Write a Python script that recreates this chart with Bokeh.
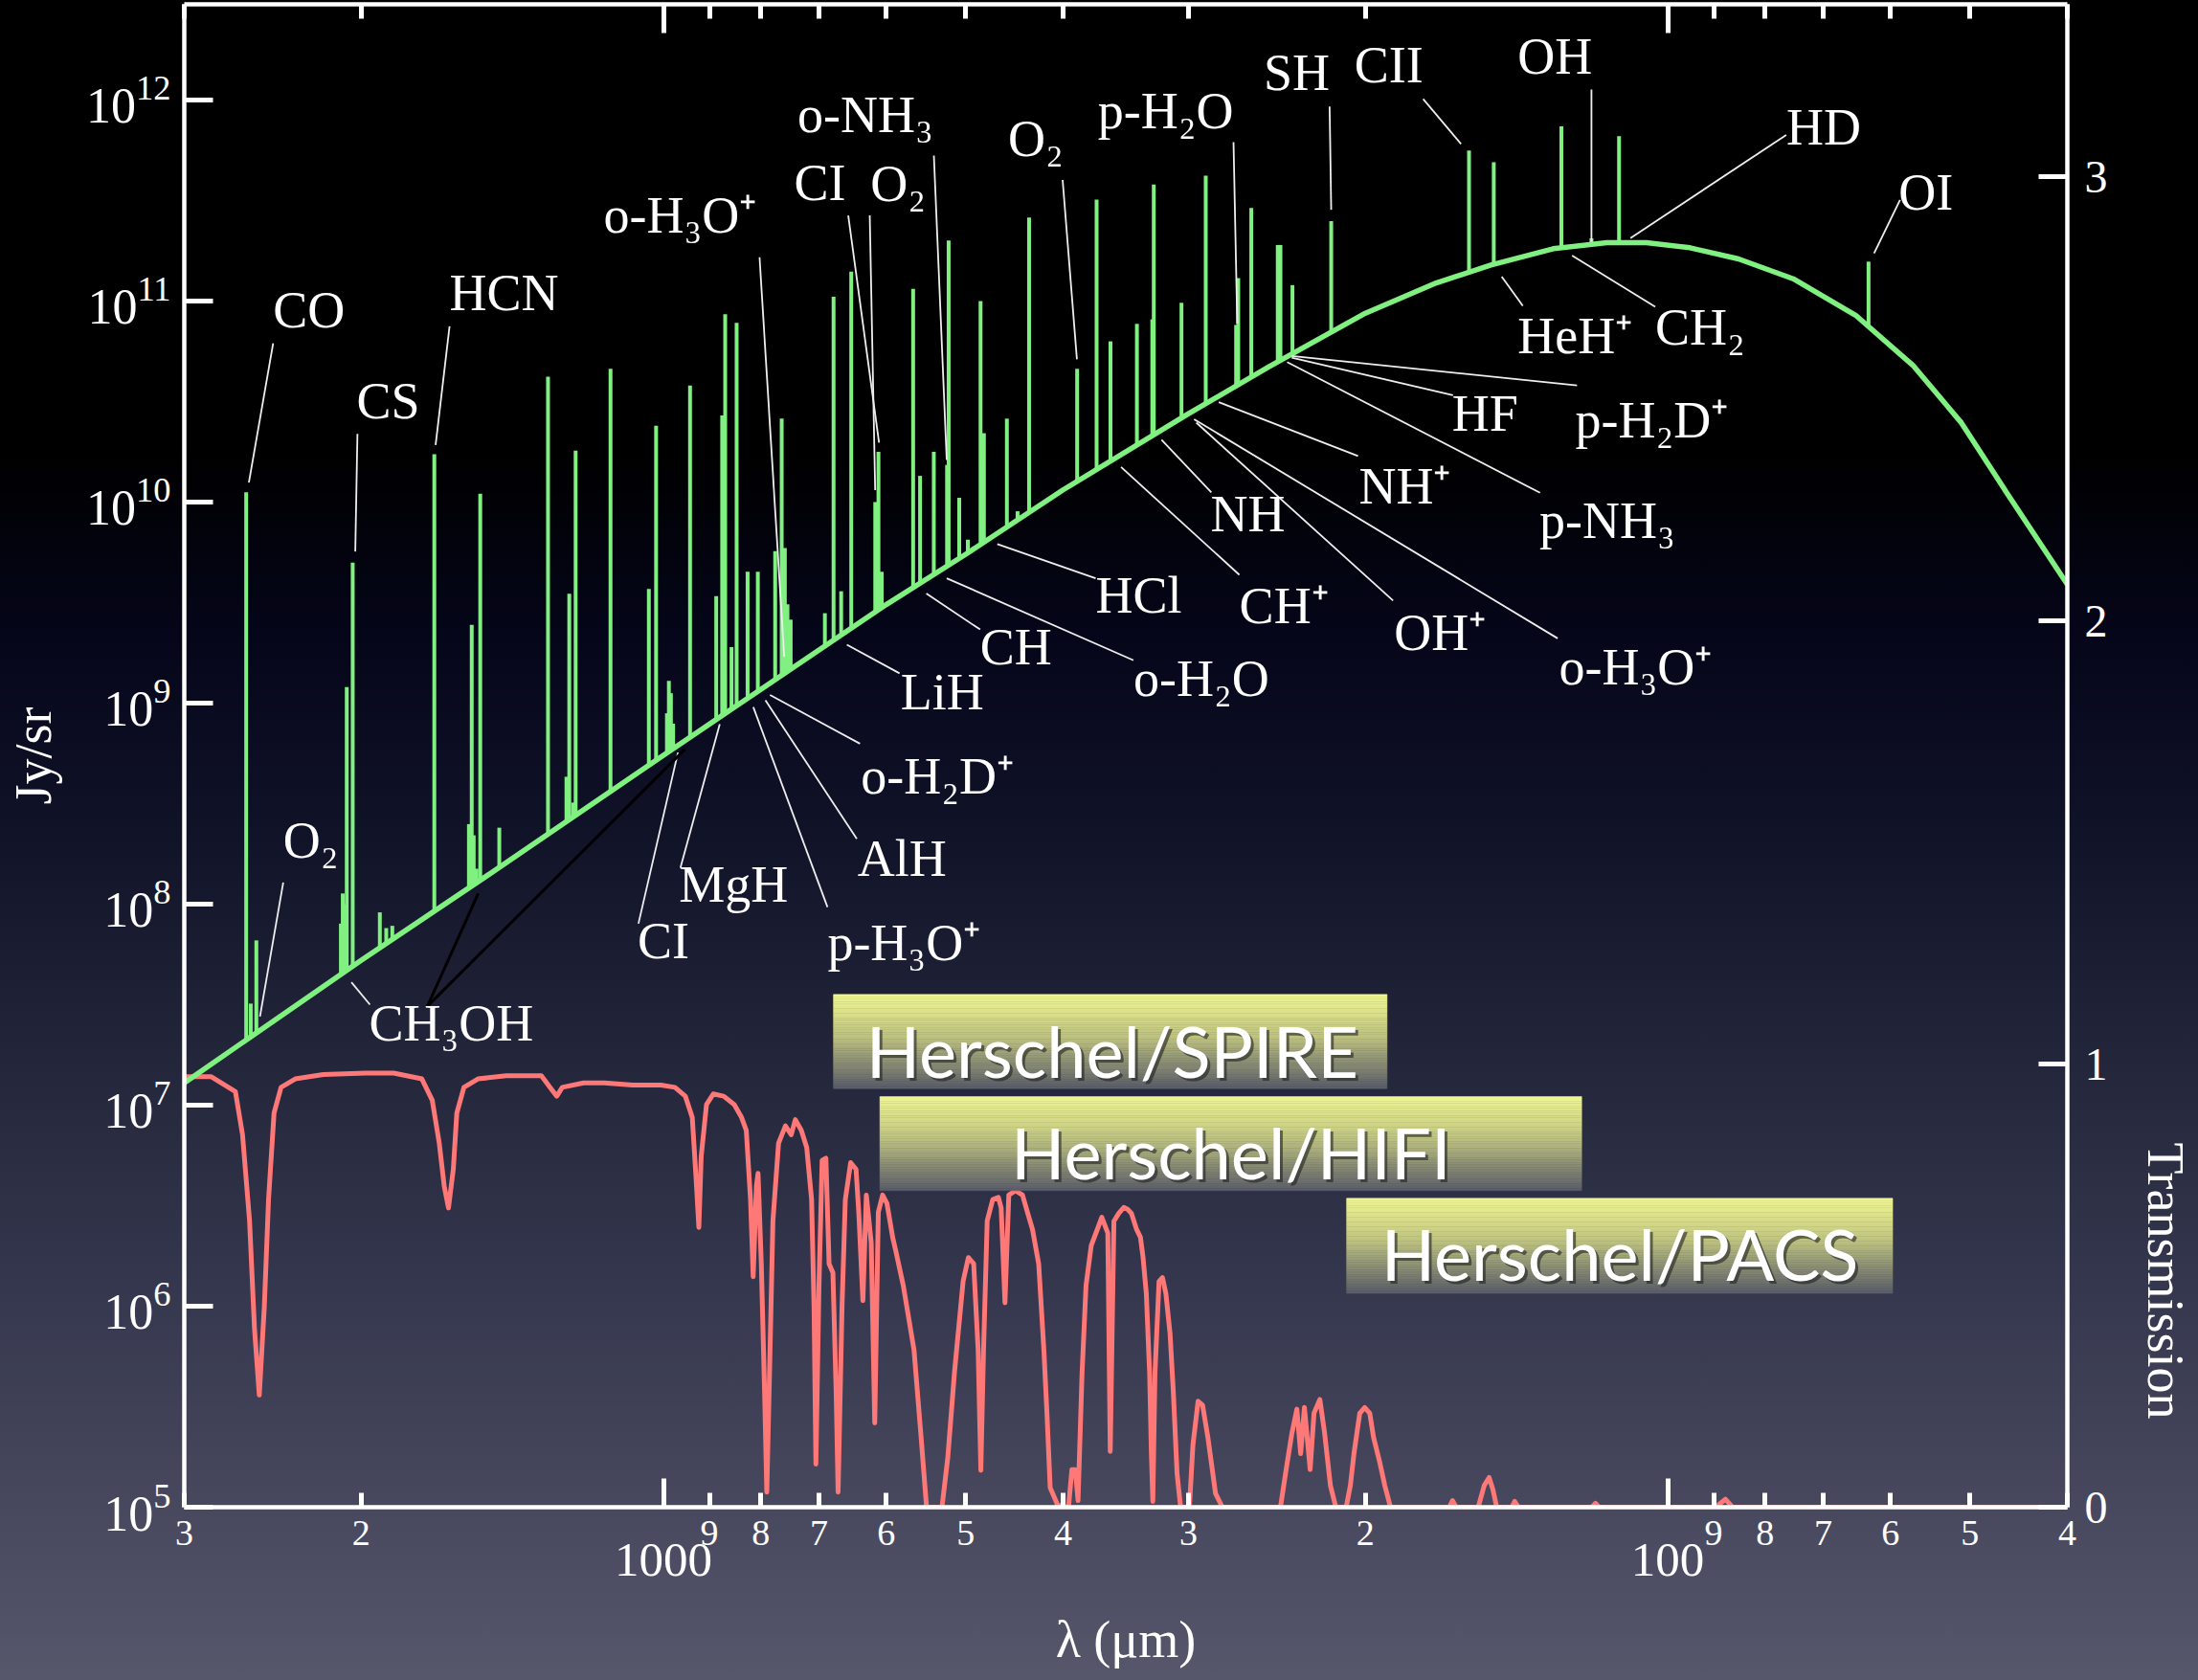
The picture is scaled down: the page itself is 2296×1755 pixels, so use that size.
import numpy as np
from bokeh.plotting import figure
from bokeh.models import (Range1d, LinearScale, LinearAxis, LogAxis, FixedTicker,
                          ColumnDataSource, GlobalInlineStyleSheet, Title)
from bokeh.embed import file_html
from bokeh.resources import INLINE
from bokeh.core.properties import value

# ---------------- data ----------------
continuum_wavelength = [3000, 2000, 1500, 1000, 800, 600, 500, 400, 300, 250, 200, 170,
                        150, 130, 115, 105, 95, 85, 75, 65, 57, 51, 46, 40]
continuum_flux = [1.29e7, 5.25e7, 1.38e8, 5.5e8, 1.17e9, 3.09e9, 5.5e9, 1.15e10, 2.75e10,
                  4.68e10, 8.7e10, 1.23e11, 1.51e11, 1.82e11, 1.95e11, 1.95e11, 1.84e11,
                  1.62e11, 1.29e11, 8.5e10, 4.79e10, 2.48e10, 1.12e10, 3.89e9]

line_wavelength = [2603, 2576, 2543, 2095, 2086, 2075, 2067, 2039, 1916, 1888, 1862, 1691,
                   1562, 1552, 1545, 1535, 1522, 1457, 1303, 1249, 1241, 1230, 1223, 1129,
                   1034, 1017, 992, 987.6, 983, 978, 940.8, 886, 874, 868, 855.5, 845.5,
                   824.5, 805.4, 774, 762.5, 757, 752.5, 747, 690.6, 677, 665.3, 650.1,
                   615.3, 610.8, 606.3, 564.1, 555.2, 538, 521.9, 520, 507.5, 497.6, 483.3,
                   479.6, 455, 444, 432.4, 387.3, 370.4, 358.8, 337.7, 326, 324.9, 304.9,
                   288.4, 269, 267.7, 259.8, 244.5, 243, 236.4, 216.3, 157.7, 149, 127.6,
                   119.1, 111.8, 63.1]
line_peak = [1.12e10, 3.2e7, 6.6e7, 8.0e7, 1.13e8, 1.0e8, 1.2e9, 5.0e9, 9.1e7, 7.6e7, 7.8e7,
             1.73e10, 2.5e8, 2.45e9, 2.2e8, 1.5e8, 1.1e10, 2.4e8, 4.2e10, 4.3e8, 3.5e9,
             3.2e8, 1.8e10, 4.6e10, 3.7e9, 2.4e10, 8.9e8, 1.29e9, 1.12e9, 7.9e8, 3.8e10,
             3.4e9, 2.7e10, 8.6e10, 1.9e9, 7.8e10, 4.5e9, 4.5e9, 5.7e9, 2.6e10, 5.9e9,
             3.1e9, 2.6e9, 2.8e9, 1.05e11, 3.6e9, 1.4e11, 1.0e10, 1.78e10, 4.5e9, 1.15e11,
             1.35e10, 1.78e10, 1.53e10, 2.0e11, 1.05e10, 6.5e9, 1.0e11, 2.2e10, 2.6e10,
             9.0e9, 2.6e11, 4.6e10, 3.2e11, 6.3e10, 7.7e10, 8.1e10, 3.8e11, 9.8e10, 4.2e11,
             7.6e10, 1.3e11, 2.9e11, 1.9e11, 1.9e11, 1.2e11, 2.5e11, 5.6e11, 4.9e11,
             7.4e11, 2.05e11, 6.6e11, 1.57e11]

transmission_wavelength = [
    3000, 2822, 2668, 2625, 2583, 2554, 2526, 2497, 2473, 2442, 2403, 2326, 2181, 1980,
    1856, 1740, 1699, 1672, 1653, 1637, 1619, 1606, 1580, 1530, 1434, 1323, 1292, 1277,
    1261, 1201, 1145, 1073, 1006, 974, 951, 936, 928, 922, 917, 906, 892, 871, 850, 836,
    827, 819, 814, 808, 805, 799, 793, 789, 784, 778, 768, 756, 746, 739, 729, 720, 712,
    708, 705, 700, 695, 689, 684, 678, 673, 670, 664, 659, 651, 643, 639, 633, 628, 621,
    616, 611, 605, 599, 591, 587, 577, 563, 554, 547, 528, 521, 513, 503, 497, 491, 486,
    483, 480, 476, 470, 464, 461, 457, 453, 446, 439, 434, 429, 423, 418, 415, 412, 405,
    395, 392, 389, 386.5, 383, 379.5, 375, 370, 366, 361, 359, 356, 352, 348, 345, 342,
    338, 335, 333, 330.5, 328, 326.7, 325.6, 324, 321, 318.5, 316, 313, 310.6, 308, 305.5,
    299.4, 297, 293.5, 290.5, 287, 282, 277.6, 243, 239.5, 236.7, 234, 232, 230, 227, 225,
    222, 219.6, 216.7, 214, 209, 207, 205.3, 202.6, 200.3, 198, 196.3, 193.6, 191.3,
    188.8, 165, 163.8, 162.4, 154.4, 152.3, 150.6, 149.3, 148, 143, 142, 140.8, 119, 118,
    117, 89.6, 87.6, 86.2, 40]
transmission = [
    0.971, 0.971, 0.937, 0.840, 0.646, 0.403, 0.253, 0.452, 0.694, 0.889, 0.947, 0.966,
    0.976, 0.979, 0.979, 0.966, 0.918, 0.821, 0.724, 0.675, 0.762, 0.889, 0.947, 0.966,
    0.973, 0.973, 0.942, 0.927, 0.947, 0.957, 0.957, 0.952, 0.952, 0.947, 0.927, 0.879,
    0.743, 0.631, 0.792, 0.908, 0.932, 0.927, 0.908, 0.879, 0.850, 0.694, 0.520, 0.724,
    0.753, 0.549, 0.258, 0.034, 0.306, 0.646, 0.821, 0.860, 0.840, 0.874, 0.850, 0.811,
    0.694, 0.452, 0.097, 0.500, 0.782, 0.787, 0.549, 0.529, 0.258, 0.034, 0.452, 0.694,
    0.777, 0.762, 0.665, 0.466, 0.704, 0.597, 0.190, 0.665, 0.704, 0.685, 0.607, 0.578,
    0.500, 0.355, 0.160, 0.0, 0.0, 0.112, 0.306, 0.510, 0.563, 0.549, 0.355, 0.083,
    0.355, 0.646, 0.694, 0.699, 0.675, 0.461, 0.704, 0.714, 0.704, 0.665, 0.626, 0.549,
    0.355, 0.209, 0.044, 0.005, 0.0, 0.085, 0.085, 0.015, 0.300, 0.500, 0.590, 0.625,
    0.654, 0.618, 0.126, 0.645, 0.663, 0.676, 0.672, 0.663, 0.627, 0.609, 0.564, 0.482,
    0.302, 0.122, 0.013, 0.302, 0.509, 0.518, 0.482, 0.392, 0.257, 0.076, 0.0, 0.0,
    0.140, 0.239, 0.230, 0.158, 0.031, 0.0, 0.0, 0.094, 0.167, 0.221, 0.121, 0.225,
    0.085, 0.212, 0.243, 0.167, 0.049, 0.0, 0.0, 0.049, 0.121, 0.212, 0.225, 0.212,
    0.158, 0.103, 0.049, 0.0, 0.0, 0.015, 0.0, 0.0, 0.049, 0.067, 0.040, 0.0, 0.0,
    0.013, 0.0, 0.0, 0.009, 0.0, 0.0, 0.018, 0.0, 0.0]

x_ticks = [3000, 2000, 1000, 900, 800, 700, 600, 500, 400, 300, 200,
           100, 90, 80, 70, 60, 50, 40]
x_tick_labels = ["3", "2", "", "9", "8", "7", "6", "5", "4", "3", "2",
                 "", "9", "8", "7", "6", "5", "4"]
x_decade_ticks = [1000, 100]
x_decade_labels = ["1000", "100"]
y_ticks = [1e5, 1e6, 1e7, 1e8, 1e9, 1e10, 1e11, 1e12]
t_ticks = [0, 1, 2, 3]
t_tick_labels = ["0", "1", "2", "3"]

# species labels: text, wavelength (um), log10 of Jy/sr at the baseline
species_labels = [
    ("CO", 2447, 10.859), ("CS", 2021, 10.409), ("HCN", 1633, 10.944),
    ("o-H₃O⁺", 1147, 11.330), ("CI", 741.1, 11.492), ("O₂", 622.2, 11.490),
    ("o-NH₃", 735.6, 11.833), ("O₂", 453.7, 11.713), ("p-H₂O", 369.4, 11.852),
    ("SH", 252.5, 12.040), ("CII", 205.1, 12.079), ("OH", 141.1, 12.119),
    ("HD", 76.2, 11.768), ("OI", 58.9, 11.445), ("CH₂", 102.9, 10.776),
    ("HeH⁺", 141.1, 10.730), ("p-H₂D⁺", 123.6, 10.314), ("HF", 164.0, 10.344),
    ("p-NH₃", 134.2, 9.811), ("NH⁺", 203.0, 9.981), ("NH", 285.3, 9.845),
    ("o-H₃O⁺", 128.3, 9.084), ("OH⁺", 187.3, 9.255), ("CH⁺", 267.0, 9.386),
    ("HCl", 371.2, 9.438), ("o-H₂O", 340.4, 9.026), ("CH", 483.8, 9.182),
    ("LiH", 580.5, 8.961), ("o-H₂D⁺", 636.0, 8.541), ("AlH", 640.9, 8.133),
    ("p-H₃O⁺", 686.5, 7.714), ("MgH", 965.0, 8.002), ("CI", 1061, 7.721),
    ("CH₃OH", 1964, 7.313), ("O₂", 2391, 8.223),
]
# leader lines: (wl0, log10 I0, wl1, log10 I1)
white_leaders = [
    (2447, 10.790, 2587, 10.097), (2017, 10.339, 2027, 9.754), (1633, 10.874, 1686, 10.284),
    (802.2, 11.218, 758.1, 9.230), (654.6, 11.426, 610.0, 10.296), (623.1, 11.426, 615.4, 10.059),
    (537.9, 11.724, 522.3, 10.210), (400.4, 11.602, 387.5, 10.710), (270.6, 11.790, 268.3, 10.888),
    (217.1, 11.968, 216.3, 11.454), (175.2, 12.005, 160.6, 11.781), (119.1, 12.052, 119.1, 11.295),
    (76.2, 11.826, 108.9, 11.313), (58.7, 11.503, 62.3, 11.237), (102.9, 10.971, 124.5, 11.226),
    (146.3, 11.121, 139.4, 10.976), (236.8, 10.727, 123.1, 10.580), (236.8, 10.718, 163.6, 10.531),
    (239.3, 10.696, 134.0, 10.046), (279.9, 10.497, 203.4, 10.229), (319.2, 10.310, 284.7, 10.048),
    (296.2, 10.412, 128.7, 9.322), (294.7, 10.395, 187.7, 9.510), (350.2, 10.174, 267.0, 9.638),
    (465.1, 9.791, 371.2, 9.621), (522.3, 9.621, 340.4, 9.213), (547.3, 9.545, 483.8, 9.366),
    (656.7, 9.290, 582.0, 9.148), (783.2, 9.040, 637.2, 8.798), (791.5, 9.014, 641.9, 8.325),
    (813.8, 8.980, 686.5, 7.985), (878.9, 8.895, 961.8, 8.181), (967.2, 8.754, 1059, 7.903),
    (2045, 7.611, 1960, 7.500), (2391, 8.108, 2522, 7.441),
]
black_leaders = [(1718, 7.492, 1529, 8.053), (1718, 7.492, 951.7, 8.771)]

# instrument boxes: name, long wl, short wl, bottom T, top T, text wl, text baseline T
instruments = [
    ("Herschel/SPIRE", 677.2, 190.3, 0.9441, 1.1565, 357.4, 0.9715),
    ("Herschel/HIFI", 608.8, 121.8, 0.7139, 0.9262, 272.2, 0.7427),
    ("Herschel/PACS", 208.8, 59.7, 0.4823, 0.6969, 111.6, 0.5138),
]

# ---------------- styling ----------------
GREEN = "#80f080"
RED = "#ff7878"
SERIF = "Liberation Serif"
LABEL_SHIFT = -20      # text glyph baseline correction (px)
BOX_SHIFT = -27

page_css = """
html { height: 100%; background: linear-gradient(to bottom, #000000 0%, #000000 27%,
  #05061a 38%, #111329 50%, #222439 62%, #33354c 75%, #45465c 88%, #56576b 100%); }
body { margin: 0 !important; padding: 0 !important; overflow: hidden; background: transparent; }
"""

p = figure(width=2296, height=1755, x_axis_type="log", y_axis_type="log",
           x_range=Range1d(3000, 40), y_range=Range1d(1e5, 10 ** 12.476),
           output_backend="svg", toolbar_location=None,
           min_border_left=192, min_border_right=136, min_border_top=4, min_border_bottom=181)
p.stylesheets = [GlobalInlineStyleSheet(css=page_css)]
p.background_fill_color = None
p.border_fill_color = None
p.outline_line_color = None
p.grid.visible = False
p.extra_y_ranges = {"T": Range1d(0, 3.3895)}
p.extra_y_scales = {"T": LinearScale()}


def style_axis(ax, size):
    ax.axis_line_color = "white"
    ax.axis_line_width = 4.5
    ax.major_tick_line_color = "white"
    ax.major_tick_line_width = 5
    ax.major_tick_out = 0
    ax.minor_tick_line_color = "white"
    ax.minor_tick_line_width = 5
    ax.minor_tick_out = 0
    ax.major_label_text_color = "white"
    ax.major_label_text_font = SERIF
    ax.major_label_text_font_size = size
    ax.axis_label_text_color = "white"
    ax.axis_label_text_font = SERIF
    ax.axis_label_text_font_style = "normal"
    ax.axis_label_text_font_size = "54px"


xb = p.xaxis[0]
xb.ticker = FixedTicker(ticks=x_ticks, minor_ticks=x_decade_ticks)
style_axis(xb, "38px")
xb.major_tick_in = 15
xb.minor_tick_in = 30
xb.major_label_standoff = 14
xb.major_label_overrides = {t: s for t, s in zip(x_ticks, x_tick_labels)}

# second row of x labels: the decades, plus the axis title
xd = LogAxis(ticker=FixedTicker(ticks=x_decade_ticks, minor_ticks=[]))
style_axis(xd, "51px")
xd.axis_line_color = None
xd.major_tick_line_color = None
xd.minor_tick_line_color = None
xd.major_tick_in = 0
xd.minor_tick_in = 0
xd.major_label_standoff = -4
xd.major_label_overrides = {t: s for t, s in zip(x_decade_ticks, x_decade_labels)}
xd.axis_label = "λ (μm)"
xd.axis_label_standoff = 34
p.add_layout(xd, "below")

xt = LogAxis(ticker=FixedTicker(ticks=x_ticks, minor_ticks=x_decade_ticks))
style_axis(xt, "0px")
xt.major_tick_in = 15
xt.minor_tick_in = 30
xt.major_label_standoff = 0
p.add_layout(xt, "above")

yl = p.yaxis[0]
yl.ticker = FixedTicker(ticks=y_ticks, minor_ticks=[])
style_axis(yl, "52px")
yl.major_tick_in = 30
yl.major_label_standoff = 14
yl.axis_label = "Jy/sr"
yl.axis_label_standoff = 22

yr = LinearAxis(y_range_name="T", ticker=FixedTicker(ticks=t_ticks, minor_ticks=[]))
style_axis(yr, "48px")
yr.major_tick_in = 30
yr.major_label_standoff = 18
# an en space after each digit keeps room between the digits and the title
yr.major_label_overrides = {t: s + "\u2002" for t, s in zip(t_ticks, t_tick_labels)}
p.add_layout(yr, "right")
p.add_layout(Title(text="Transmission", align="right", offset=92, vertical_align="bottom",
                   standoff=6, text_font=SERIF, text_font_size="54px",
                   text_font_style="normal", text_color="white"), "right")

# ---------------- transmission ----------------
p.line(transmission_wavelength, transmission, y_range_name="T",
       line_color=RED, line_width=5, line_join="round")

# ---------------- spectrum ----------------
cw = np.array(continuum_wavelength, dtype=float)
cf = np.array(continuum_flux, dtype=float)
order = np.argsort(cw)
lw = np.array(line_wavelength, dtype=float)
base = 10 ** np.interp(np.log10(lw), np.log10(cw[order]), np.log10(cf[order]))
p.segment(x0=lw, y0=base, x1=lw, y1=line_peak, line_color=GREEN, line_width=4)
p.line(cw, cf, line_color=GREEN, line_width=5.5, line_join="round")

# ---------------- leaders and labels ----------------
wl = np.array(white_leaders, dtype=float)
p.segment(x0=wl[:, 0], y0=10 ** wl[:, 1], x1=wl[:, 2], y1=10 ** wl[:, 3],
          line_color="#eeeeee", line_width=1.8)
bl = np.array(black_leaders, dtype=float)
p.segment(x0=bl[:, 0], y0=10 ** bl[:, 1], x1=bl[:, 2], y1=10 ** bl[:, 3],
          line_color="black", line_width=3)

lab_src = ColumnDataSource(dict(
    x=[s[1] for s in species_labels],
    y=[10 ** s[2] for s in species_labels],
    text=[s[0] for s in species_labels]))
p.text(x="x", y="y", text="text", source=lab_src, text_font=value(SERIF),
       text_font_size="54px", text_color="white", text_align="left",
       text_baseline="alphabetic", y_offset=LABEL_SHIFT)

# ---------------- instrument boxes ----------------
stops = [(0.0, (241, 248, 145)), (0.45, (190, 194, 128)), (1.0, (90, 93, 104))]


def grad_color(f):
    for (f0, c0), (f1, c1) in zip(stops[:-1], stops[1:]):
        if f <= f1:
            u = (f - f0) / (f1 - f0)
            return "#%02x%02x%02x" % tuple(int(round(a + (b - a) * u)) for a, b in zip(c0, c1))
    return "#%02x%02x%02x" % stops[-1][1]


n_strips = 40
for name, wl_long, wl_short, t_bot, t_top, t_wl, t_base in instruments:
    edges = np.linspace(t_top, t_bot, n_strips + 1)
    colors = [grad_color((i + 0.5) / n_strips) for i in range(n_strips)]
    p.quad(left=[wl_long] * n_strips, right=[wl_short] * n_strips,
           top=edges[:-1], bottom=edges[1:], y_range_name="T",
           fill_color=colors, line_color=colors, line_width=0.5)

for name, wl_long, wl_short, t_bot, t_top, t_wl, t_base in instruments:
    p.text(x=[t_wl], y=[t_base], text=[name], y_range_name="T",
           text_font=value("Lato"), text_font_size="74px", text_color="#222222",
           text_alpha=0.6, text_align="center", text_baseline="alphabetic",
           x_offset=3, y_offset=BOX_SHIFT + 3)
    p.text(x=[t_wl], y=[t_base], text=[name], y_range_name="T",
           text_font=value("Lato"), text_font_size="74px", text_color="white",
           text_align="center", text_baseline="alphabetic", y_offset=BOX_SHIFT)

open("out.html", "w").write(file_html(p, INLINE))
